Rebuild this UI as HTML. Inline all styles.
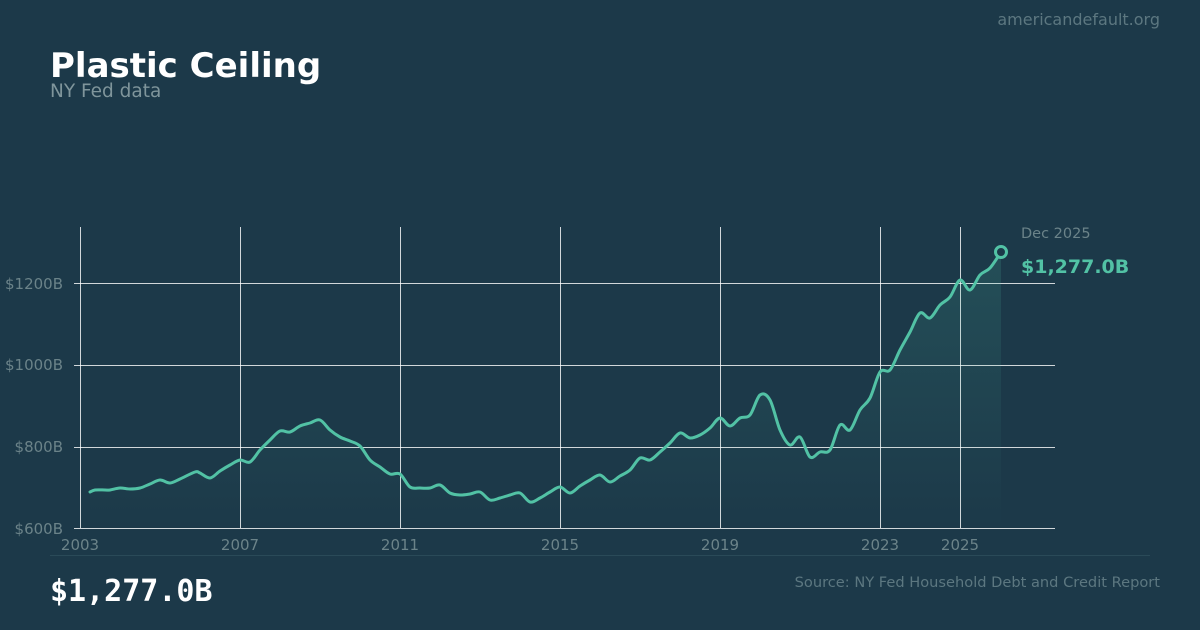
<!DOCTYPE html>
<html><head><meta charset="utf-8"><style>
html,body{margin:0;padding:0;background:#1c3949;}
body{width:1200px;height:630px;overflow:hidden;font-family:"DejaVu Sans",sans-serif;}
</style></head><body>
<svg width="1200" height="630" xmlns="http://www.w3.org/2000/svg" style="position:absolute;left:0;top:0" font-family="DejaVu Sans, sans-serif">
<defs>
<linearGradient id="g" x1="0" y1="0" x2="0" y2="1">
<stop offset="0" stop-color="#4fc2a6" stop-opacity="0.16"/>
<stop offset="1" stop-color="#4fc2a6" stop-opacity="0"/>
</linearGradient>
</defs>
<rect width="1200" height="630" fill="#1c3949"/>
<text x="1160" y="25" text-anchor="end" font-size="16" fill="#5c7780">americandefault.org</text>
<text x="50" y="77" font-size="34" font-weight="bold" fill="#ffffff">Plastic Ceiling</text>
<text x="50" y="97" font-size="18.5" fill="#7f959b">NY Fed data</text>
<g stroke="#ffffff" stroke-opacity="0.8" stroke-width="1">
<line x1="80" y1="283.5" x2="1055" y2="283.5"/>
<line x1="80" y1="365.5" x2="1055" y2="365.5"/>
<line x1="80" y1="447.5" x2="1055" y2="447.5"/>
<line x1="80" y1="528.5" x2="1055" y2="528.5"/>
<line x1="80.5" y1="227" x2="80.5" y2="528"/>
<line x1="240.5" y1="227" x2="240.5" y2="528"/>
<line x1="400.5" y1="227" x2="400.5" y2="528"/>
<line x1="560.5" y1="227" x2="560.5" y2="528"/>
<line x1="720.5" y1="227" x2="720.5" y2="528"/>
<line x1="880.5" y1="227" x2="880.5" y2="528"/>
<line x1="960.5" y1="227" x2="960.5" y2="528"/>
<line x1="74" y1="283.5" x2="80" y2="283.5"/>
<line x1="74" y1="365.5" x2="80" y2="365.5"/>
<line x1="74" y1="447.5" x2="80" y2="447.5"/>
<line x1="74" y1="528.5" x2="80" y2="528.5"/>
</g>
<g font-size="15" fill="#6b8389" text-anchor="end">
<text x="63" y="289">$1200B</text>
<text x="63" y="370">$1000B</text>
<text x="63" y="452">$800B</text>
<text x="63" y="534">$600B</text>
</g>
<g font-size="15" fill="#6b8389" text-anchor="middle">
<text x="80" y="550">2003</text>
<text x="240" y="550">2007</text>
<text x="400" y="550">2011</text>
<text x="560" y="550">2015</text>
<text x="720" y="550">2019</text>
<text x="880" y="550">2023</text>
<text x="960" y="550">2025</text>
</g>
<path id="area" fill="url(#g)"/>
<path id="line" fill="none" stroke="#52c2a5" stroke-width="3" stroke-linejoin="round" stroke-linecap="round"/>
<circle cx="1001" cy="252" r="5.5" fill="#1c3949" stroke="#52c2a5" stroke-width="3"/>
<text x="1021" y="238" font-size="14.5" fill="#6b8389">Dec 2025</text>
<text x="1021" y="273" font-size="19" font-weight="bold" fill="#52c2a5">$1,277.0B</text>
<line x1="50" y1="555.5" x2="1150" y2="555.5" stroke="#2a4a58" stroke-width="1"/>
<text x="50" y="601" font-size="30" font-weight="bold" fill="#ffffff" font-family="DejaVu Sans Mono, monospace">$1,277.0B</text>
<text x="1160" y="587" text-anchor="end" font-size="14.6" fill="#5c7780">Source: NY Fed Household Debt and Credit Report</text>
</svg>
<script>
var p=[[90,492],[95,490],[105,490],[110,490],[120,488],[130,489],[140,488],[150,484],[160,480],[170,483],[180,479],[195,472],[200,473],[210,478],[220,471],[230,465],[240,460],[250,462],[260,450],[270,440],[280,431],[290,432],[300,426],[310,423],[320,420],[330,430],[340,437],[350,441],[360,446],[370,460],[380,467],[390,474],[400,474],[410,487],[420,488],[430,488],[440,485],[450,493],[460,495],[470,494],[480,492],[490,500],[500,498],[510,495],[520,493],[530,502],[540,498],[550,492],[560,487],[570,493],[580,486],[590,480],[600,475],[610,482],[620,476],[630,470],[640,458],[650,460],[660,452],[670,443],[680,433],[690,438],[700,435],[710,428],[720,418],[730,426],[740,418],[750,415],[760,395],[770,400],[780,430],[790,445],[800,437],[810,457],[820,452],[830,450],[840,425],[850,430],[860,410],[870,398],[880,372],[890,370],[900,350],[910,332],[920,313],[930,318],[940,305],[950,297],[960,280],[970,290],[980,275],[990,268],[1001,252]];
var d="M"+p[0][0]+","+p[0][1];
for(var i=0;i<p.length-1;i++){var a=p[i>0?i-1:0],b=p[i],c=p[i+1],e=p[i+2<p.length?i+2:i+1];
d+=" C"+(b[0]+(c[0]-a[0])/6)+","+(b[1]+(c[1]-a[1])/6)+" "+(c[0]-(e[0]-b[0])/6)+","+(c[1]-(e[1]-b[1])/6)+" "+c[0]+","+c[1];}
document.getElementById("line").setAttribute("d",d);
document.getElementById("area").setAttribute("d",d+" L1001,528 L90,528 Z");
</script>
</body></html>
